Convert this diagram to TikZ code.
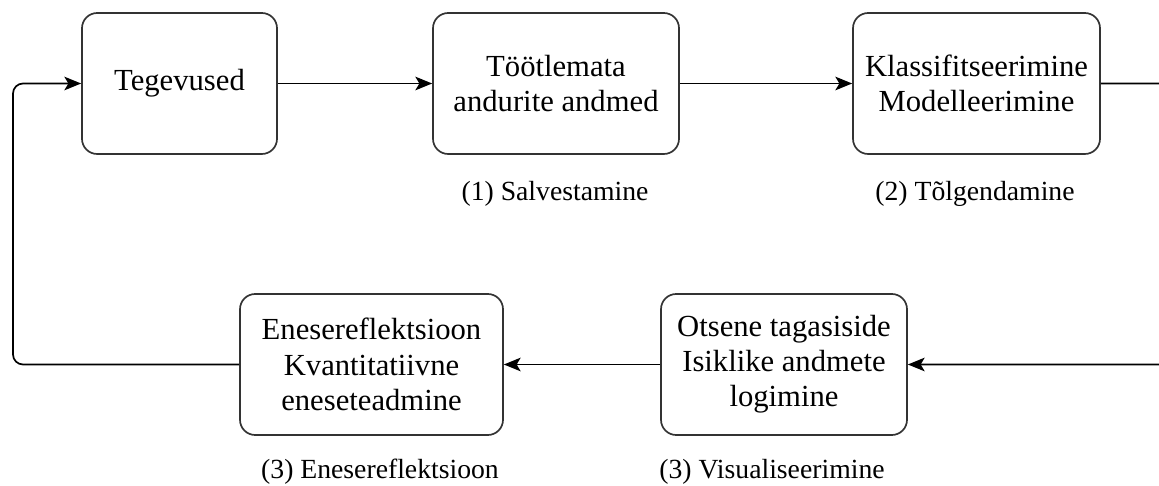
\documentclass[tikz,border=0pt]{standalone}
\usepackage{fontspec}
\setmainfont{Liberation Serif}
\usepackage{tikz}
\usetikzlibrary{positioning}
\usetikzlibrary{arrows.meta}
\definecolor{boxline}{rgb}{0.2, 0.2, 0.2}
\tikzstyle{stage} = [rectangle, rounded corners=0.38cm, minimum height=3.525cm, text centered, align=center, draw=boxline, line width=1.2pt, fill=white, font=\fontsize{21.8}{25}\selectfont]
\tikzstyle{phase} = [font=\fontsize{19.7}{23}\selectfont]
\tikzstyle{arrow} = [line width=1.2pt, -{Stealth[length=0.42cm, width=0.34cm, inset=0.1cm]}]
\tikzstyle{rail} = [line width=1.2pt, rounded corners=0.25cm]

\begin{document}
\begin{tikzpicture}
\clip (0,0) rectangle (28.975,12.15);
\fill[white] (0,0) rectangle (28.975,12.15);
\node (tegev) [stage, minimum width=4.875cm] at (4.4875,10.0625) {Tegevused};
\node (toot) [stage, minimum width=6.15cm] at (13.9,10.0625) {Töötlemata\\andurite andmed};
\node (klass) [stage, minimum width=6.175cm] at (24.4125,10.0625) {Klassifitseerimine\\Modelleerimine};
\node (enese) [stage, minimum width=6.575cm] at (9.2875,3.0375) {Enesereflektsioon\\Kvantitatiivne\\eneseteadmine};
\node (otsene) [stage, minimum width=6.15cm] at (19.6,3.0375) {Otsene tagasiside\\Isiklike andmete\\logimine};
\node (salv) [phase] at (13.875,7.3) {(1) Salvestamine};
\node (tolg) [phase] at (24.375,7.3) {(2) Tõlgendamine};
\node (refl) [phase] at (9.5,0.35) {(3) Enesereflektsioon};
\node (visu) [phase] at (19.3,0.35) {(3) Visualiseerimine};
\coordinate (leftrail) at (0.325,6.5);
\coordinate (rightrail) at (29.6,6.5);
\draw[arrow] (tegev) -- (toot);
\draw[arrow] (toot) -- (klass);
\draw[arrow] (otsene) -- (enese);
\draw[arrow, rail] (enese.west) -| (leftrail) |- (tegev.west);
\draw[arrow, rail] (klass.east) -| (rightrail) |- (otsene.east);
\end{tikzpicture}
\end{document}
